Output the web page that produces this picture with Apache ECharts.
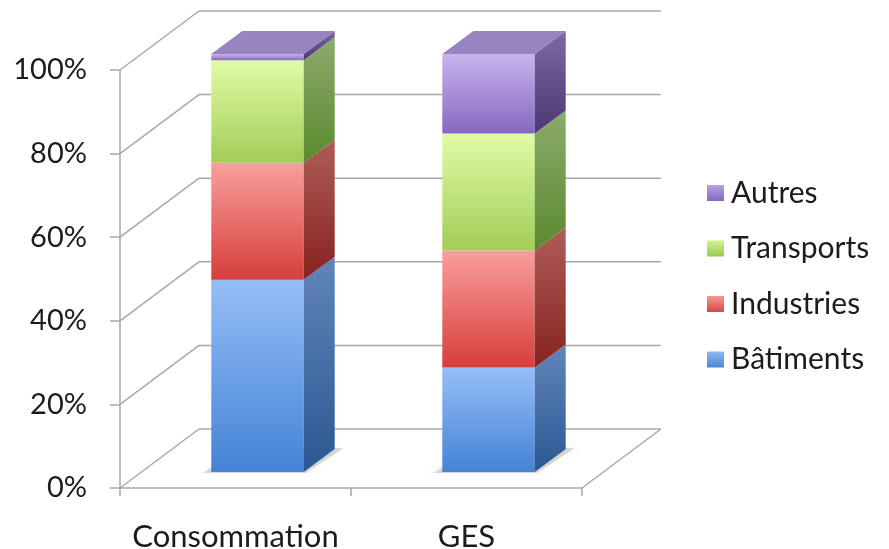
<!DOCTYPE html>
<html>
<head>
<meta charset="utf-8">
<script src="https://cdn.jsdelivr.net/npm/echarts@6/dist/echarts.min.js"></script>
<style>
  html, body { margin: 0; padding: 0; background: #ffffff; }
  #chart { width: 889px; height: 549px; }
</style>
</head>
<body>
<div id="chart"></div>
<script>
// Répartition par secteur (%)
const categories = ['Consommation', 'GES'];
const batiments  = [46, 25];
const industries = [28, 28];
const transports = [24.5, 28];
const autres     = [1.5, 19];
const yTicks     = [0, 20, 40, 60, 80, 100];

const seriesNames  = ['Bâtiments', 'Industries', 'Transports', 'Autres'];
const seriesValues = [batiments, industries, transports, autres];

// Face colours for each sector: front gradient, side gradient, top face, legend swatch
const palette = [
  { front: ['#96BEF7', '#4483D5'], side: ['#6185BA', '#2B5893'], top: '#7299D2', swatch: ['#8FB8F1', '#4A87D7'] },
  { front: ['#F99F9C', '#D63E3B'], side: ['#AE5D59', '#872220'], top: '#C4625E', swatch: ['#F59A97', '#D84643'] },
  { front: ['#E0FCA6', '#A1CD57'], side: ['#8CAB6C', '#5B892E'], top: '#9FBB7A', swatch: ['#D2F394', '#9BC84E'] },
  { front: ['#C8B4EF', '#8868C0'], side: ['#7D69A4', '#4C3776'], top: '#9784C0', swatch: ['#B6A0E6', '#8767BE'] }
];

// Pseudo-3D geometry (pixels)
const WALL_DX = 79, WALL_DY = -59;          // depth of the back wall
const BAR_FRONT_DX = 22, BAR_FRONT_DY = -16; // bar front plane inside the box
const BAR_DX = 31, BAR_DY = -23;            // bar depth
const BAR_WIDTH_RATIO = 0.40;
const FONT = 'Lato, "Open Sans", sans-serif';
const TEXT = '#1c1c1c';
const LINE = '#a8a8a8';

function vGrad(c) {
  return new echarts.graphic.LinearGradient(0, 0, 0, 1, [
    { offset: 0, color: c[0] }, { offset: 1, color: c[1] }
  ]);
}

// Stacked [category, base, top] rows for each sector
const stackedRows = seriesValues.map(function (vals, s) {
  return vals.map(function (v, i) {
    let base = 0;
    for (let k = 0; k < s; k++) base += seriesValues[k][i];
    return [i, base, base + v];
  });
});

function barRenderer(s) {
  const pal = palette[s];
  const isTop = s === seriesValues.length - 1;
  const isBottom = s === 0;
  return function (params, api) {
    const cat = api.value(0), lo = api.value(1), hi = api.value(2);
    const pLo = api.coord([cat, lo]);
    const pHi = api.coord([cat, hi]);
    const bw = api.size([1, 0])[0] * BAR_WIDTH_RATIO;
    const cx = pLo[0] + BAR_FRONT_DX;
    const L = cx - bw / 2, R = cx + bw / 2;
    const yb = pLo[1] + BAR_FRONT_DY, yt = pHi[1] + BAR_FRONT_DY;
    const children = [];
    if (isBottom) {
      children.push({
        type: 'polygon',
        shape: { points: [[L - 9, yb + 1], [R + 2, yb + 1], [R + BAR_DX + 9, yb + BAR_DY - 1], [L + BAR_DX, yb + BAR_DY]] },
        style: { fill: 'rgba(90,90,90,0.22)', shadowBlur: 6, shadowColor: 'rgba(0,0,0,0.25)' }
      });
    }
    children.push({
      type: 'rect',
      shape: { x: L, y: yt, width: bw, height: yb - yt },
      style: { fill: vGrad(pal.front) }
    });
    children.push({
      type: 'polygon',
      shape: { points: [[R, yb], [R + BAR_DX, yb + BAR_DY], [R + BAR_DX, yt + BAR_DY], [R, yt]] },
      style: { fill: vGrad(pal.side) }
    });
    if (isTop) {
      children.push({
        type: 'polygon',
        shape: { points: [[L, yt], [R, yt], [R + BAR_DX, yt + BAR_DY], [L + BAR_DX, yt + BAR_DY]] },
        style: { fill: pal.top }
      });
    }
    return { type: 'group', children: children };
  };
}

// Back wall grid lines, side edges and floor
function wallRenderer(params, api) {
  const v = api.value(1);
  const cs = params.coordSys;
  const y = api.coord([0, v])[1];
  const x0 = cs.x, x1 = cs.x + cs.width;
  const st = { stroke: LINE, lineWidth: 1.5 };
  const children = [
    { type: 'line', shape: { x1: x0, y1: y, x2: x0 + WALL_DX, y2: y + WALL_DY }, style: st },
    { type: 'line', shape: { x1: x0 + WALL_DX, y1: y + WALL_DY, x2: x1 + WALL_DX, y2: y + WALL_DY }, style: st }
  ];
  if (v === 0) {
    children.push({ type: 'line', shape: { x1: x1, y1: y, x2: x1 + WALL_DX, y2: y + WALL_DY }, style: st });
  }
  return { type: 'group', children: children };
}

const chart = echarts.init(document.getElementById('chart'), null, { renderer: 'canvas' });

const series = [{
  type: 'custom',
  name: 'wall',
  silent: true,
  clip: false,
  z: 1,
  renderItem: wallRenderer,
  encode: { x: 0, y: 1 },
  data: yTicks.map(function (v) { return [0, v]; })
}];

seriesNames.forEach(function (name, s) {
  series.push({
    type: 'custom',
    name: name,
    clip: false,
    z: 2,
    itemStyle: { color: vGrad(palette[s].swatch) },
    renderItem: barRenderer(s),
    encode: { x: 0, y: [1, 2] },
    data: stackedRows[s]
  });
});

chart.setOption({
  animation: false,
  backgroundColor: '#ffffff',
  grid: { left: 120, right: 307, top: 70, bottom: 61, containLabel: false, outerBoundsMode: 'none' },
  legend: {
    orient: 'vertical',
    left: 702,
    top: 173,
    icon: 'rect',
    itemWidth: 17,
    itemHeight: 16,
    itemGap: 25.5,
    textStyle: { fontFamily: FONT, fontSize: 30, color: TEXT, lineHeight: 30, padding: [0, 0, 0, 2] },
    data: ['Autres', 'Transports', 'Industries', 'Bâtiments'].map(function (n) {
      return { name: n, itemStyle: { color: vGrad(palette[seriesNames.indexOf(n)].swatch) } };
    })
  },
  xAxis: {
    type: 'category',
    data: categories,
    boundaryGap: true,
    axisLine: { show: true, lineStyle: { color: LINE, width: 1.5 } },
    axisTick: { show: true, alignWithLabel: false, length: 8, lineStyle: { color: LINE, width: 1.5 } },
    axisLabel: { fontFamily: FONT, fontSize: 31, color: TEXT, margin: 33, interval: 0 },
    splitLine: { show: false }
  },
  yAxis: {
    type: 'value',
    min: 0,
    max: 100,
    interval: 20,
    axisLine: { show: true, lineStyle: { color: LINE, width: 1.5 } },
    axisTick: { show: true, length: 10, lineStyle: { color: LINE, width: 1.5 } },
    axisLabel: { fontFamily: FONT, fontSize: 29, color: TEXT, margin: 33, formatter: '{value}%' },
    splitLine: { show: false }
  },
  series: series
});
</script>
</body>
</html>
